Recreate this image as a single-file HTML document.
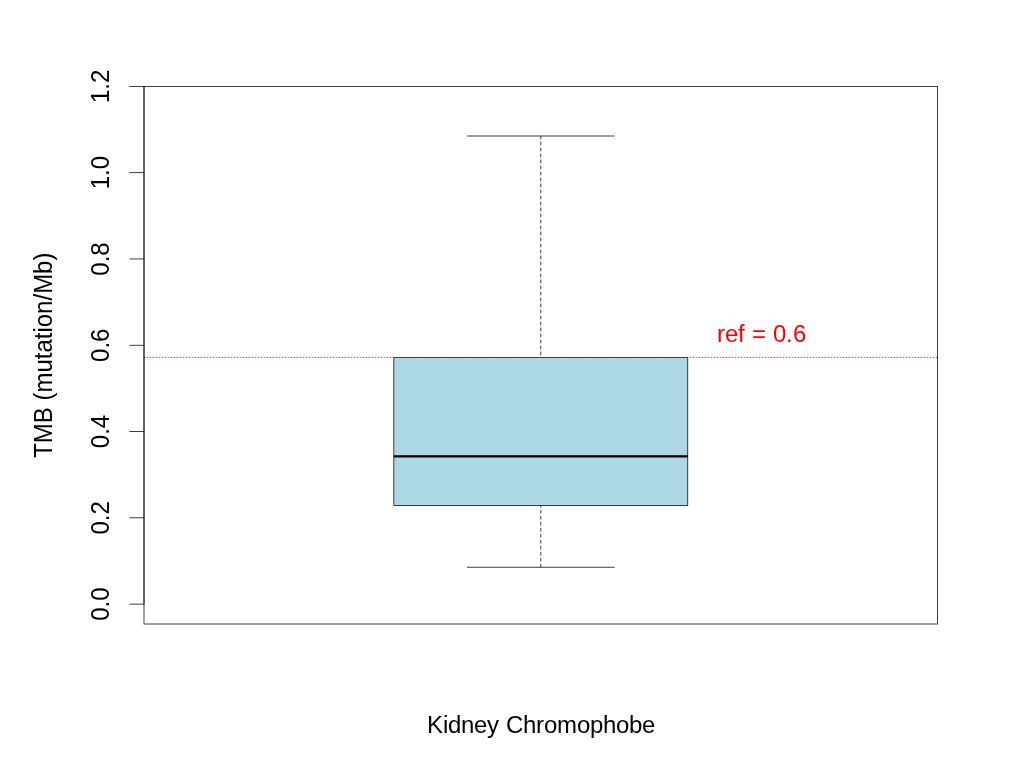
<!DOCTYPE html>
<html><head><meta charset="utf-8"><title>TMB boxplot</title><style>
html,body{margin:0;padding:0;background:#fff;overflow:hidden}
svg{display:block;will-change:transform}
text{font-family:"Liberation Sans",Arial,Helvetica,sans-serif;font-size:24px}
</style></head><body>
<svg width="1024" height="768" viewBox="0 0 1024 768">
<rect x="393.84" y="357.5" width="293.92" height="148" fill="#ADD8E6"/>
<g fill="#000"><rect x="393.84" y="455.225" width="293.92" height="2.25"/></g>
<g stroke="#000" stroke-width="0.75" stroke-linecap="round" fill="none">
<line x1="540.8" y1="136.0" x2="540.8" y2="357.5" stroke-dasharray="3 3"/>
<line x1="540.8" y1="567.2" x2="540.8" y2="505.5" stroke-dasharray="3 3"/>
</g>
<g fill="#000">
<rect x="467.025" y="135.625" width="147.55" height="0.75"/>
<rect x="467.025" y="566.825" width="147.55" height="0.75"/>
<rect x="393.465" y="357.125" width="294.67" height="0.75"/><rect x="393.465" y="505.125" width="294.67" height="0.75"/><rect x="393.465" y="357.875" width="0.75" height="147.25"/><rect x="687.385" y="357.875" width="0.75" height="147.25"/>
</g>
<line x1="144.0" y1="357.5" x2="937.6" y2="357.5" stroke="#FF0000" stroke-width="0.75" stroke-dasharray="0.75 2.25" stroke-linecap="round"/>
<g fill="#000">
<rect x="143.625" y="86.025" width="794.35" height="0.75"/><rect x="143.625" y="623.625" width="794.35" height="0.75"/><rect x="143.625" y="86.775" width="0.75" height="536.85"/><rect x="937.225" y="86.775" width="0.75" height="536.85"/>
<rect x="143.625" y="86.103" width="0.75" height="518.282"/>
<rect x="129.305" y="603.715" width="14.99" height="0.75"/>
<rect x="129.305" y="517.433" width="14.99" height="0.75"/>
<rect x="129.305" y="431.151" width="14.99" height="0.75"/>
<rect x="129.305" y="344.869" width="14.99" height="0.75"/>
<rect x="129.305" y="258.587" width="14.99" height="0.75"/>
<rect x="129.305" y="172.305" width="14.99" height="0.75"/>
<rect x="129.305" y="86.023" width="14.99" height="0.75"/>
</g>
<text transform="translate(109.2 604.09) rotate(-90) scale(1 1.06)" text-anchor="middle">0.0</text>
<text transform="translate(109.2 517.81) rotate(-90) scale(1 1.06)" text-anchor="middle">0.2</text>
<text transform="translate(109.2 431.53) rotate(-90) scale(1 1.06)" text-anchor="middle">0.4</text>
<text transform="translate(109.2 345.24) rotate(-90) scale(1 1.06)" text-anchor="middle">0.6</text>
<text transform="translate(109.2 258.96) rotate(-90) scale(1 1.06)" text-anchor="middle">0.8</text>
<text transform="translate(109.2 172.68) rotate(-90) scale(1 1.06)" text-anchor="middle">1.0</text>
<text transform="translate(109.2 86.40) rotate(-90) scale(1 1.06)" text-anchor="middle">1.2</text>
<text transform="translate(52.2 355.2) rotate(-90) scale(1 1.05)" text-anchor="middle">TMB (mutation/Mb)</text>
<text transform="translate(0 733) scale(1 1.025)" x="427 443 448 461 474 487 499 506 523 536 544 557 577 590 603 616 629 642" y="0">Kidney Chromophobe</text>
<text transform="translate(0 342) scale(1 1.025)" x="717 725 738 745 752 766 773 786 793" y="0" fill="#FF0000">ref = 0.6</text>
</svg>
</body></html>
